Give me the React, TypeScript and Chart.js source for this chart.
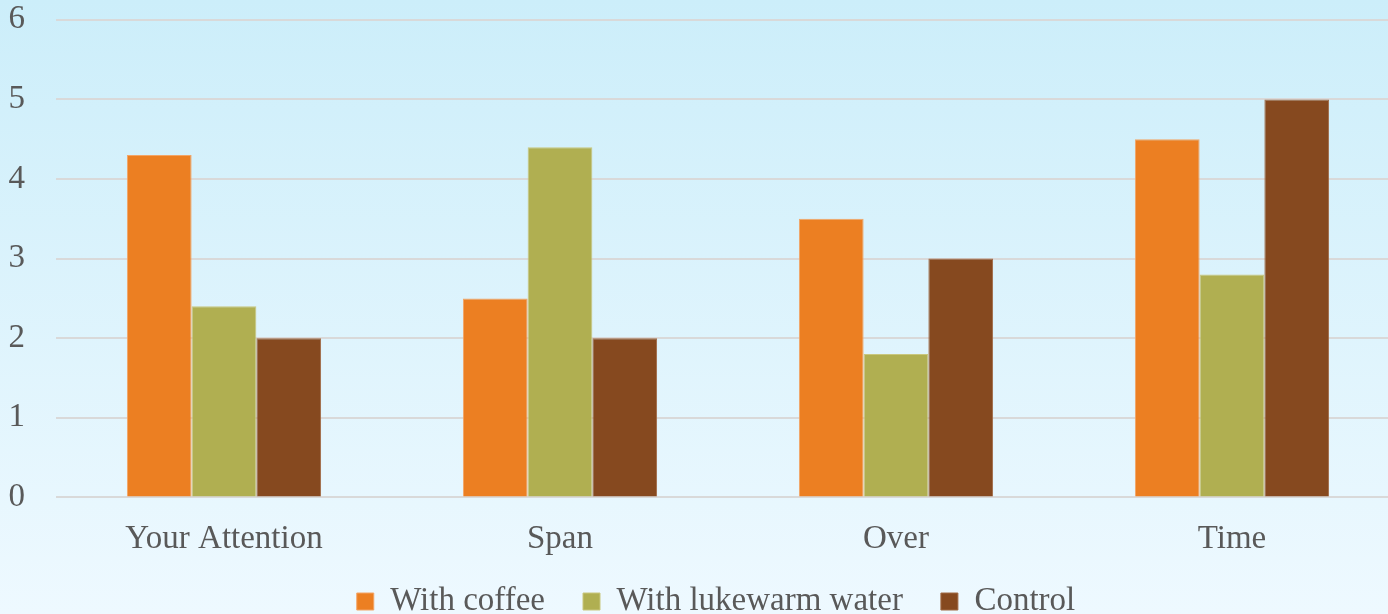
import React, { useEffect, useRef } from "react";
import { Chart, registerables } from "chart.js";

Chart.register(...registerables);

const categories = ["Your Attention", "Span", "Over", "Time"];
const seriesNames = ["With coffee", "With lukewarm water", "Control"];
const coffee = [4.3, 2.5, 3.5, 4.5];
const water = [2.4, 4.4, 1.8, 2.8];
const control = [2.0, 2.0, 3.0, 5.0];
const colors = ["#EC7F22", "#B0AF51", "#86491F"];
const borders = ["#F3A566", "#C9C77E", "#A06A45"];

const FONT = "'Liberation Serif', serif";
const TEXT = "#595959";

const bgPlugin = {
  id: "bg",
  beforeDraw(chart: any) {
    const { ctx, width, height } = chart;
    const g = ctx.createLinearGradient(0, 0, 0, height);
    g.addColorStop(0, "#CCEEFA");
    g.addColorStop(1, "#EEF9FF");
    ctx.save();
    ctx.fillStyle = g;
    ctx.fillRect(0, 0, width, height);
    ctx.restore();
  },
};

const legendShift = {
  id: "legendShift",
  afterLayout(chart: any) {
    const lg = chart.legend;
    if (lg) {
      lg.top -= 26;
      lg.bottom -= 26;
      lg.left += 16;
      lg.right += 16;
    }
  },
};

export default function App() {
  const ref = useRef<HTMLCanvasElement>(null);
  useEffect(() => {
    document.body.style.overflow = "hidden";
    const data = [coffee, water, control];
    const chart = new Chart(ref.current!, {
      type: "bar",
      data: {
        labels: categories,
        datasets: seriesNames.map((n, i) => ({
          label: n,
          data: data[i],
          backgroundColor: colors[i],
          borderColor: borders[i],
          borderWidth: 1,
          barPercentage: 1,
          categoryPercentage: 0.578,
        })),
      },
      options: {
        responsive: false,
        animation: false,
        layout: { padding: { top: -5, left: 0, right: 0, bottom: -40 } },
        scales: {
          x: {
            grid: { display: false },
            border: { display: false },
            ticks: {
              color: TEXT,
              font: { family: FONT, size: 33 },
              padding: 14,
            },
          },
          y: {
            min: 0,
            max: 6,
            grid: {
              color: "#D9D9D9",
              lineWidth: 2,
              drawTicks: true,
              tickLength: 31,
              tickColor: "rgba(0,0,0,0)",
            },
            border: { display: false },
            ticks: {
              stepSize: 1,
              color: TEXT,
              font: { family: FONT, size: 33 },
              padding: 0,
            },
            afterFit(scale: any) {
              scale.width = 56;
            },
          },
        },
        plugins: {
          legend: {
            position: "bottom",
            labels: {
              color: TEXT,
              font: { family: FONT, size: 33 },
              boxWidth: 17,
              boxHeight: 17,
              padding: 38,
            },
          },
          tooltip: { enabled: false },
        },
      },
      plugins: [bgPlugin, legendShift],
    });
    return () => chart.destroy();
  }, []);
  return (
    <div style={{ position: "fixed", left: 0, top: 0, width: 1400, height: 614 }}>
      <canvas ref={ref} width={1400} height={614} />
    </div>
  );
}
